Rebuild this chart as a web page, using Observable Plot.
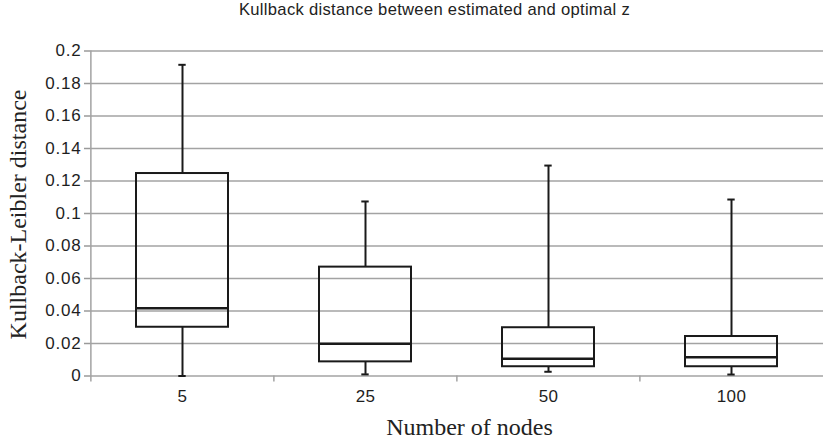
<!DOCTYPE html>
<html>
<head>
<meta charset="utf-8">
<script src="https://cdn.jsdelivr.net/npm/d3@7"></script>
<script src="https://cdn.jsdelivr.net/npm/@observablehq/plot@0.6"></script>
<style>
  html, body { margin: 0; padding: 0; background: #fff; }
  #wrap { width: 823px; height: 440px; position: relative; overflow: hidden; }
  #title { height: 30px; line-height: 26px; font: 16.6px "Liberation Sans", Arial, sans-serif; color: #222; letter-spacing: 0.3px;
           text-align: center; padding-left: 46px; box-sizing: border-box; width: 823px; white-space: nowrap; }
</style>
</head>
<body>
<div id="wrap">
  <div id="title"></div>
  <div id="chart"></div>
</div>
<script>
const titleText = "Kullback distance between estimated and optimal z";
const xLabel = "Number of nodes";
const yLabel = "Kullback-Leibler distance";

const nodes = ["5", "25", "50", "100"];
const whiskerLow = [0, 0.001, 0.0026, 0.0009];
const q1 = [0.030, 0.0087, 0.0057, 0.0057];
const median = [0.0417, 0.0198, 0.0106, 0.0116];
const q3 = [0.1246, 0.067, 0.0297, 0.0243];
const whiskerHigh = [0.1915, 0.1074, 0.1295, 0.1086];
const yTicks = [0, 0.02, 0.04, 0.06, 0.08, 0.1, 0.12, 0.14, 0.16, 0.18, 0.2];

const data = nodes.map((n, i) => ({n, lo: whiskerLow[i], q1: q1[i], med: median[i], q3: q3[i], hi: whiskerHigh[i]}));

document.getElementById("title").textContent = titleText;

const W = 823, H = 410, mL = 90, mR = 0, mT = 20.5, mB = 64.5;
const step = (W - mL - mR) / nodes.length;
const bw = step * 0.5;
const capW = 7;
const capInset = (bw - capW) / 2;
const plotH = H - mT - mB;
const ink = "#1a1a1a";
const grid = "#a3a3a3";
const tickFont = 17;

const chart = Plot.plot({
  width: W, height: H,
  marginLeft: mL, marginRight: mR, marginTop: mT, marginBottom: mB,
  style: {fontFamily: "'Liberation Sans', Arial, sans-serif", fontSize: "17px", color: "#1e1e1e", background: "#fff", overflow: "visible"},
  x: {domain: nodes, paddingInner: 0.5, paddingOuter: 0.25, label: null},
  y: {domain: [0, 0.2], label: null},
  marks: [
    Plot.ruleY(yTicks, {stroke: grid, strokeWidth: 1.5}),
    Plot.axisY({ticks: yTicks, tickSize: 6, tickPadding: 3, fontSize: tickFont, stroke: "#9a9a9a", strokeWidth: 1.5, label: null,
      tickFormat: d => String(+d.toFixed(2))}),
    Plot.axisX({tickSize: 0, tickPadding: 14, fontSize: tickFont, label: null}),
    // y axis line (left edge of first band)
    Plot.ruleX(["5"], {x: d => d, dx: -step / 2, insetBottom: -6, stroke: grid, strokeWidth: 1.5}),
    // category boundary ticks below the axis
    Plot.ruleX(["25", "50", "100"], {x: d => d, dx: -step / 2, insetTop: plotH, insetBottom: -6, stroke: grid, strokeWidth: 1.5}),
    // whiskers
    Plot.ruleX(data, {x: "n", y1: "lo", y2: "q1", stroke: ink, strokeWidth: 2}),
    Plot.ruleX(data, {x: "n", y1: "q3", y2: "hi", stroke: ink, strokeWidth: 2}),
    // caps
    Plot.tickY(data, {x: "n", y: "lo", stroke: ink, strokeWidth: 2, insetLeft: capInset, insetRight: capInset}),
    Plot.tickY(data, {x: "n", y: "hi", stroke: ink, strokeWidth: 2, insetLeft: capInset, insetRight: capInset}),
    // boxes
    Plot.barY(data, {x: "n", y1: "q1", y2: "q3", fill: "none", stroke: ink, strokeWidth: 2}),
    Plot.tickY(data, {x: "n", y: "med", stroke: ink, strokeWidth: 2.5}),
    // axis titles
    Plot.text([xLabel], {text: d => d, frameAnchor: "bottom", textAnchor: "middle", dx: 12.5, dy: 51.8, lineAnchor: "middle",
      fontFamily: "'Liberation Serif', 'Times New Roman', serif", fontSize: 24, fill: "#222"}),
    Plot.text([yLabel], {text: d => d, frameAnchor: "left", textAnchor: "middle", rotate: -90, dx: -72.2, dy: 1, lineAnchor: "middle",
      fontFamily: "'Liberation Serif', 'Times New Roman', serif", fontSize: 24, fill: "#222"})
  ]
});
// widen tick labels slightly, as in the reference
chart.querySelectorAll("g[aria-label='y-axis tick label'] text").forEach(t => {
  t.style.fontSize = tickFont + "px"; t.style.letterSpacing = "0.8px";
});
chart.querySelectorAll("g[aria-label='x-axis tick label'] text").forEach(t => {
  t.style.fontSize = tickFont + "px"; t.style.letterSpacing = "0.4px";
});
document.getElementById("chart").appendChild(chart);
</script>
</body>
</html>
